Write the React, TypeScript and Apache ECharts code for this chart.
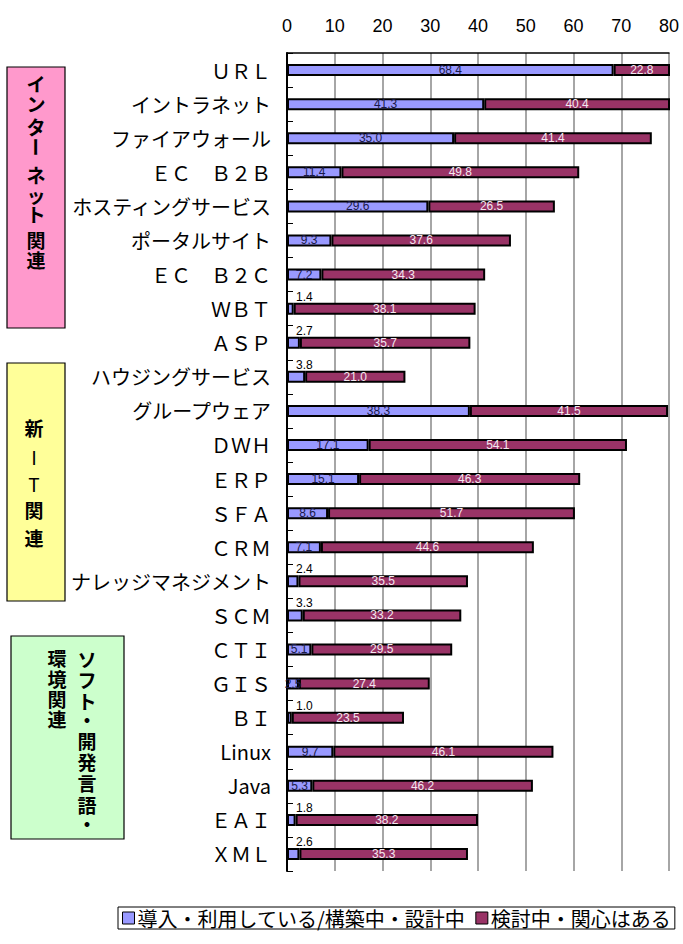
import React, { useEffect, useRef } from "react";
import * as echarts from "echarts";

const categories = [
  "ＵＲＬ", "イントラネット", "ファイアウォール", "ＥＣ　Ｂ２Ｂ", "ホスティングサービス",
  "ポータルサイト", "ＥＣ　Ｂ２Ｃ", "ＷＢＴ", "ＡＳＰ", "ハウジングサービス",
  "グループウェア", "ＤＷＨ", "ＥＲＰ", "ＳＦＡ", "ＣＲＭ",
  "ナレッジマネジメント", "ＳＣＭ", "ＣＴＩ", "ＧＩＳ", "ＢＩ",
  "Linux", "Java", "ＥＡＩ", "ＸＭＬ",
];
const seriesNames = ["導入・利用している/構築中・設計中", "検討中・関心はある"];
const introduced = [68.4, 41.3, 35.0, 11.4, 29.6, 9.3, 7.2, 1.4, 2.7, 3.8, 38.3, 17.1, 15.1, 8.6, 7.1, 2.4, 3.3, 5.1, 2.5, 1.0, 9.7, 5.3, 1.8, 2.6];
const considering = [22.8, 40.4, 41.4, 49.8, 26.5, 37.6, 34.3, 38.1, 35.7, 21.0, 41.5, 54.1, 46.3, 51.7, 44.6, 35.5, 33.2, 29.5, 27.4, 23.5, 46.1, 46.2, 38.2, 35.3];
const axisMin = 0;
const axisMax = 80;
const axisStep = 10;

// categories whose small value label sits above the bar
const labelAbove = ["ＷＢＴ", "ＡＳＰ", "ハウジングサービス", "ナレッジマネジメント", "ＳＣＭ", "ＢＩ", "ＥＡＩ", "ＸＭＬ"];

const groupBoxes = [
  {
    x: 7, y: 67, w: 58, h: 261, fill: "#ff99cc",
    columns: [
      { x: 36, chars: ["イ", "ン", "タ", "ー", "ネ", "ッ", "ト", "関", "連"], ys: [83, 103, 126, 147, 174, 194, 213, 239, 259] },
    ],
  },
  {
    x: 7, y: 363, w: 58, h: 238, fill: "#ffff99",
    columns: [
      { x: 34, chars: ["新", "I", "T", "関", "連"], ys: [427, 456, 483, 509, 537] },
    ],
  },
  {
    x: 11, y: 636, w: 113, h: 203, fill: "#ccffcc",
    columns: [
      { x: 87, chars: ["ソ", "フ", "ト", "・", "開", "発", "言", "語", "・"], ys: [658, 679, 700, 719, 740, 761, 782, 804, 823] },
      { x: 57, chars: ["環", "境", "関", "連"], ys: [657, 678, 698, 718] },
    ],
  },
];

const CJK = '"Noto Sans CJK JP", "Noto Sans", sans-serif';
const LATIN = '"Liberation Sans", Arial, sans-serif';

function buildGraphic() {
  const els: any[] = [];
  groupBoxes.forEach((b) => {
    els.push({
      type: "rect",
      shape: { x: b.x, y: b.y, width: b.w, height: b.h },
      style: { fill: b.fill, stroke: "#000", lineWidth: 1.2 },
      z: 10,
    });
    b.columns.forEach((c) => {
      c.chars.forEach((ch, i) => {
        const latin = ch === "I" || ch === "T";
        els.push({
          type: "text",
          x: c.x,
          y: c.ys[i],
          rotation: ch === "ー" ? -Math.PI / 2 : 0,
          style: {
            text: ch,
            fill: "#000",
            font: `${latin ? "normal" : "bold"} 19px ${CJK}`,
            lineHeight: 19,
            align: "center",
            verticalAlign: "middle",
          },
          z: 11,
        });
      });
    });
  });
  return els;
}

export default function App() {
  const ref = useRef<HTMLDivElement>(null);
  useEffect(() => {
    if (!ref.current) return;
    const chart = echarts.init(ref.current, undefined, { renderer: "svg" });
    const fmt = (p: any) => Number(p.value).toFixed(1);
    const introData = introduced.map((v, i) => {
      if (labelAbove.includes(categories[i])) {
        return {
          value: v,
          label: {
            position: [9, 0],
            align: "left",
            verticalAlign: "bottom",
            color: "#000",
          },
        };
      }
      return v;
    });
    chart.setOption({
      animation: false,
      backgroundColor: "#fff",
      grid: { left: 287, top: 53, width: 382, height: 818, containLabel: false },
      xAxis: {
        type: "value",
        position: "top",
        min: axisMin,
        max: axisMax,
        interval: axisStep,
        axisLine: { show: true, lineStyle: { color: "#000", width: 1.5 } },
        axisTick: { show: false },
        axisLabel: { color: "#000", fontSize: 18, fontFamily: LATIN, margin: 18 },
        splitLine: { show: true, lineStyle: { color: "#888", width: 1.5 } },
      },
      yAxis: {
        type: "category",
        data: categories,
        inverse: true,
        axisLine: { show: true, lineStyle: { color: "#000", width: 2 } },
        axisTick: { show: true, inside: true, length: 6, lineStyle: { color: "#000", width: 1 } },
        axisLabel: { color: "#000", fontSize: 20, fontFamily: CJK, margin: 16 },
        splitLine: { show: false },
      },
      legend: {
        left: 118,
        top: 907,
        orient: "horizontal",
        itemWidth: 12,
        itemHeight: 12,
        itemGap: 10,
        icon: "rect",
        padding: [1, 4],
        borderColor: "#000",
        borderWidth: 1,
        backgroundColor: "#fff",
        itemStyle: { borderColor: "#000", borderWidth: 1 },
        textStyle: { color: "#000", fontSize: 20, fontFamily: CJK, padding: [0, 0, 0, -2] },
        data: seriesNames,
      },
      graphic: buildGraphic(),
      series: [
        {
          name: seriesNames[0],
          type: "bar",
          stack: "total",
          barWidth: 12,
          data: introData,
          itemStyle: { color: "#9999ff", borderColor: "#000", borderWidth: 2 },
          label: { show: true, position: "inside", color: "#1a1a4a", fontSize: 12, fontFamily: LATIN, formatter: fmt },
        },
        {
          name: seriesNames[1],
          type: "bar",
          stack: "total",
          barWidth: 12,
          data: considering,
          itemStyle: { color: "#993366", borderColor: "#000", borderWidth: 2 },
          label: { show: true, position: "inside", color: "#f4e8f0", fontSize: 12, fontFamily: LATIN, formatter: fmt },
        },
      ],
    });
    return () => chart.dispose();
  }, []);
  return (
    <div style={{ position: "fixed", left: 0, top: 0, width: 683, height: 944, overflow: "hidden", background: "#fff" }}>
      <div ref={ref} style={{ width: 800, height: 944 }} />
    </div>
  );
}
